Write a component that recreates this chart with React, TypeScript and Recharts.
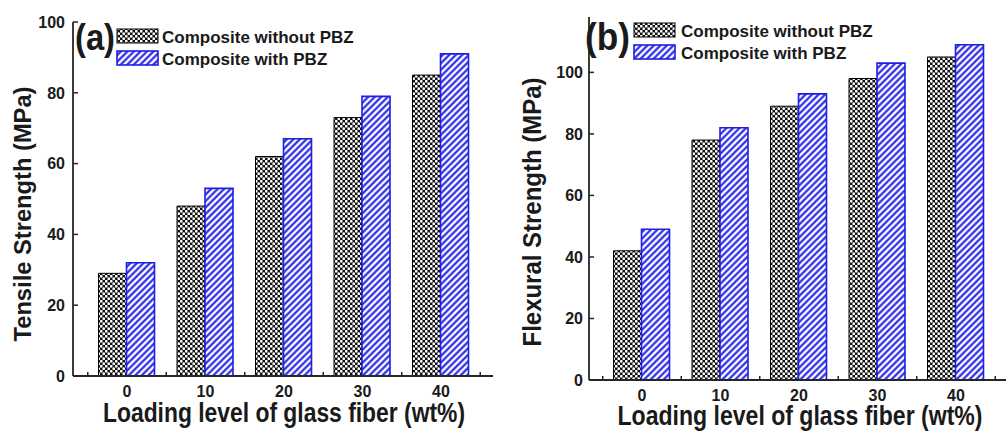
import React from "react";
import { BarChart, Bar, XAxis, YAxis } from "recharts";

const loading = ["0", "10", "20", "30", "40"];
const tensileWithout = [29, 48, 62, 73, 85];
const tensileWith = [32, 53, 67, 79, 91];
const flexWithout = [42, 78, 89, 98, 105];
const flexWith = [49, 82, 93, 103, 109];
const yTicks = [0, 20, 40, 60, 80, 100];
const seriesNames = ["Composite without PBZ", "Composite with PBZ"];
const panelLabels = ["(a)", "(b)"];
const xTitle = "Loading level of glass fiber (wt%)";
const yTitles = ["Tensile Strength (MPa)", "Flexural Strength (MPa)"];

const FONT = "'Liberation Sans', Arial, Helvetica, sans-serif";
const BLUE = "#1e1ee6";
const AXIS = "#262626";

const dataA = loading.map((c, i) => ({ c, a: tensileWithout[i], b: tensileWith[i] }));
const dataB = loading.map((c, i) => ({ c, a: flexWithout[i], b: flexWith[i] }));

const XTick = (props: any) => {
  const { x, y, payload, index, visibleTicksCount } = props;
  const off = payload && typeof payload.offset === "number" ? payload.offset : 39.25;
  const last = index === visibleTicksCount - 1;
  return (
    <g>
      <line x1={x - off} x2={x - off} y1={y} y2={y - 4} stroke={AXIS} strokeWidth={1.5} />
      {last && <line x1={x + off} x2={x + off} y1={y} y2={y - 4} stroke={AXIS} strokeWidth={1.5} />}
      <text x={x} y={y + 21} textAnchor="middle" fontFamily={FONT} fontWeight="bold" fontSize={16} fill="#1a1a1a">
        {payload.value}
      </text>
    </g>
  );
};

const YTick = (gap: number) => (props: any) => {
  const { x, y, payload } = props;
  return (
    <g>
      <line x1={x} x2={x + 5} y1={y} y2={y} stroke={AXIS} strokeWidth={1.5} />
      <text x={x - gap} y={y} dy="0.36em" textAnchor="end" fontFamily={FONT} fontWeight="bold" fontSize={16} fill="#1a1a1a">
        {payload.value}
      </text>
    </g>
  );
};

function Panel(props: {
  data: any[];
  width: number;
  margin: any;
  domainMax: number;
  padding: { left: number; right: number };
  gap: number;
}) {
  const { data, width, margin, domainMax, padding, gap } = props;
  return (
    <BarChart width={width} height={434} data={data} margin={margin} barGap={0} barCategoryGap="13.7%">
      <XAxis
        dataKey="c"
        type="category"
        height={30}
        padding={padding}
        axisLine={{ stroke: AXIS, strokeWidth: 1.8 }}
        tickLine={false}
        tickSize={0}
        tickMargin={0}
        interval={0}
        tick={<XTick />}
      />
      <XAxis xAxisId="top" dataKey="c" orientation="top" height={0} tick={false} tickLine={false} axisLine={{ stroke: AXIS, strokeWidth: 1.8 }} />
      <YAxis
        width={60}
        domain={[0, domainMax]}
        ticks={yTicks}
        allowDataOverflow
        axisLine={{ stroke: AXIS, strokeWidth: 1.8 }}
        tickLine={false}
        tickSize={0}
        tickMargin={0}
        interval={0}
        tick={YTick(gap)}
      />
      <YAxis yAxisId="r" orientation="right" width={0} tick={false} tickLine={false} axisLine={{ stroke: AXIS, strokeWidth: 1.8 }} />
      <Bar dataKey="a" fill="url(#dotsPat)" stroke="#000" strokeWidth={1} isAnimationActive={false} />
      <Bar dataKey="b" fill="url(#hatchPat)" stroke={BLUE} strokeWidth={1.6} isAnimationActive={false} />
    </BarChart>
  );
}

function LegendBlock(props: { x: number; y0: number; y1: number; tx: number; b0: number; b1: number }) {
  const { x, y0, y1, tx, b0, b1 } = props;
  return (
    <g>
      <rect x={x} y={y0} width={41} height={14} fill="url(#dotsPat)" stroke="#000" strokeWidth={1} />
      <rect x={x} y={y1} width={41} height={14} fill="url(#hatchPat)" stroke={BLUE} strokeWidth={1.6} />
      <text x={tx} y={b0} fontFamily={FONT} fontWeight="bold" fontSize={17} fill="#1a1a1a">{seriesNames[0]}</text>
      <text x={tx} y={b1} fontFamily={FONT} fontWeight="bold" fontSize={17} fill="#1a1a1a">{seriesNames[1]}</text>
    </g>
  );
}

export default function App() {
  return (
    <div style={{ position: "absolute", left: 0, top: 0, width: 1006, height: 434, overflow: "hidden", background: "#fff" }}>
      <svg width={0} height={0} style={{ position: "absolute" }}>
        <defs>
          <pattern id="dotsPat" patternUnits="userSpaceOnUse" width={5} height={5}>
            <rect width={5} height={5} fill="#111" />
            <circle cx={1.25} cy={1.25} r={1.4} fill="#fff" />
            <circle cx={3.75} cy={3.75} r={1.4} fill="#fff" />
          </pattern>
          <pattern id="hatchPat" patternUnits="userSpaceOnUse" width={4.6} height={4.6} patternTransform="rotate(45)">
            <rect width={4.6} height={4.6} fill="#fff" />
            <line x1={2.3} y1={0} x2={2.3} y2={4.6} stroke={BLUE} strokeWidth={2.1} />
          </pattern>
        </defs>
      </svg>
      <div style={{ position: "absolute", left: 0, top: 0 }}>
        <Panel
          data={dataA}
          width={500}
          margin={{ top: 22, left: 13, right: 7, bottom: 28 }}
          domainMax={100}
          padding={{ left: 14.75, right: 12.75 }}
          gap={8}
        />
      </div>
      <div style={{ position: "absolute", left: 500, top: 0 }}>
        <Panel
          data={dataB}
          width={520}
          margin={{ top: 17, left: 29, right: 12, bottom: 24 }}
          domainMax={118}
          padding={{ left: 13.75, right: 12.75 }}
          gap={6}
        />
      </div>
      <svg width={1006} height={434} style={{ position: "absolute", left: 0, top: 0, pointerEvents: "none" }}>
        <text x={75} y={49.5} fontFamily={FONT} fontWeight="bold" fontSize={36} textLength={40} lengthAdjust="spacingAndGlyphs" fill="#1a1a1a">{panelLabels[0]}</text>
        <text x={585} y={50} fontFamily={FONT} fontWeight="bold" fontSize={38} textLength={45} lengthAdjust="spacingAndGlyphs" fill="#1a1a1a">{panelLabels[1]}</text>
        <LegendBlock x={117} y0={29} y1={51} tx={162} b0={43} b1={65} />
        <LegendBlock x={634} y0={23} y1={45} tx={681} b0={37} b1={59} />
        <text x={284} y={422} textAnchor="middle" fontFamily={FONT} fontWeight="bold" fontSize={28} textLength={362} lengthAdjust="spacingAndGlyphs" fill="#1a1a1a">{xTitle}</text>
        <text x={800} y={425} textAnchor="middle" fontFamily={FONT} fontWeight="bold" fontSize={28} textLength={365} lengthAdjust="spacingAndGlyphs" fill="#1a1a1a">{xTitle}</text>
        <text transform="translate(22,214) rotate(-90)" textAnchor="middle" dy="0.36em" fontFamily={FONT} fontWeight="bold" fontSize={24} textLength={255} lengthAdjust="spacingAndGlyphs" fill="#1a1a1a">{yTitles[0]}</text>
        <text transform="translate(532,212) rotate(-90)" textAnchor="middle" dy="0.36em" fontFamily={FONT} fontWeight="bold" fontSize={25} textLength={269} lengthAdjust="spacingAndGlyphs" fill="#1a1a1a">{yTitles[1]}</text>
      </svg>
    </div>
  );
}
